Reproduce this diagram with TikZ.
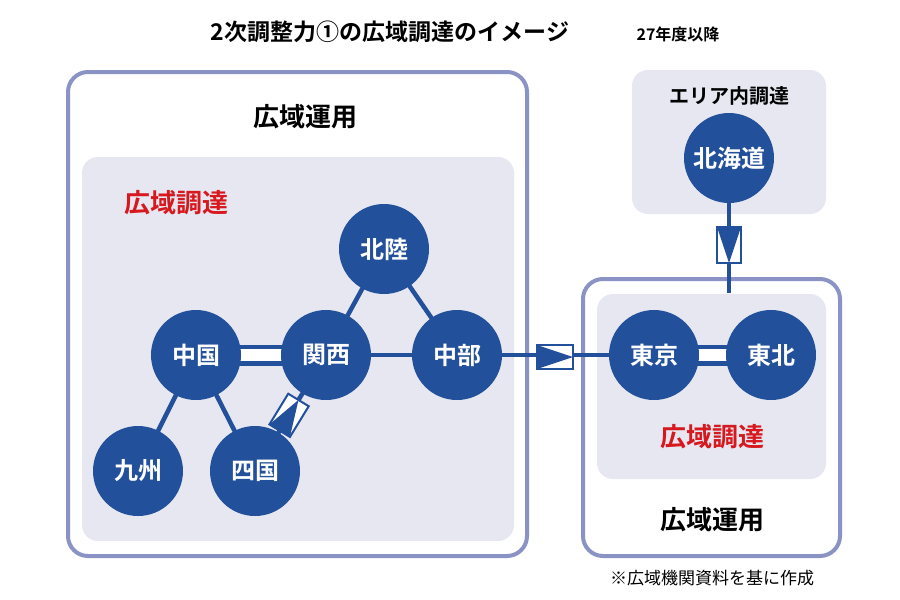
\documentclass[tikz,border=0pt]{standalone}
\usepackage{fontspec}
\setmainfont{Noto Sans CJK JP}[BoldFont={Noto Sans CJK JP Bold}]
\usetikzlibrary{calc}
\definecolor{nb}{HTML}{23509A}
\definecolor{fr}{HTML}{8A93C4}
\definecolor{bg}{HTML}{E6E7F0}
\definecolor{rd}{HTML}{D7191F}
\begin{document}
\begin{tikzpicture}[x=1pt,y=-1pt,
  area/.style={circle,fill=nb,minimum size=90pt,inner sep=0pt,text=white,font=\bfseries\fontsize{24}{24}\selectfont},
  lnk/.style={nb,line width=4.5pt},
  dbl/.style={nb,line width=21pt},
  dblw/.style={white,line width=12pt},
  hd/.style={font=\bfseries\fontsize{26}{26}\selectfont},
  conv/.pic={\draw[nb,line width=2pt,fill=white] (-18,-12) rectangle (18,12);
             \fill[nb] (-18,-12) -- (18,0) -- (-18,12) -- cycle;}]
\useasboundingbox (0,0) rectangle (900,600);
\node[font=\bfseries\fontsize{23}{23}\selectfont] (t) at (390,32) {2次調整力①の広域調達のイメージ};
\node[font=\bfseries\fontsize{16}{16}\selectfont] (t2) at (678,34) {27年度以降};
% boxes
\draw[fr,line width=4pt,rounded corners=20pt] (68,72) rectangle (527,556);
\fill[bg,rounded corners=16pt] (82,157) rectangle (514,541);
\draw[fr,line width=4pt,rounded corners=20pt] (583,279) rectangle (840,556);
\fill[bg,rounded corners=16pt] (597,294) rectangle (826,479);
\fill[bg,rounded corners=16pt] (632,70) rectangle (826,214);
\node[hd] (h1) at (305,117) {広域運用};
\node[hd,text=rd] (r1) at (176,203) {広域調達};
\node[hd,text=rd] (r2) at (712,437) {広域調達};
\node[hd] (h2) at (712,520) {広域運用};
\node[font=\bfseries\fontsize{20}{20}\selectfont] (ea) at (729,96) {エリア内調達};
\node[font=\fontsize{17}{17}\selectfont] (ft) at (712,578) {※広域機関資料を基に作成};
% nodes positions
\coordinate (pH) at (384,249); \coordinate (pC) at (196,355); \coordinate (pK) at (326,355);
\coordinate (pB) at (457,355); \coordinate (pQ) at (138,471); \coordinate (pS) at (255,471);
\coordinate (pT) at (654,355); \coordinate (pN) at (771,355); \coordinate (pD) at (729,158);
% links
\draw[lnk] (pH) -- (pK); \draw[lnk] (pH) -- (pB); \draw[lnk] (pK) -- (pB);
\draw[lnk] (pC) -- (pQ); \draw[lnk] (pC) -- (pS); \draw[lnk] (pK) -- (pS);
\draw[dbl] (pC) -- (pK); \draw[dblw] ($(pC)+(44,0)$) -- ($(pK)-(44,0)$);
\draw[dbl] (pT) -- (pN); \draw[dblw] ($(pT)+(44,0)$) -- ($(pN)-(44,0)$);
\draw[lnk] (pB) -- (pT);
\draw[lnk] (pD) -- (729,293);
\pic at (555,357) {conv};
\pic[rotate=-90] at (729,245) {conv};
\path (pK) -- (pS) pic[pos=0.52,sloped] {conv};
\node[area] (hokuriku) at (pH) {北陸};
\node[area] (chugoku) at (pC) {中国};
\node[area] (kansai) at (pK) {関西};
\node[area] (chubu) at (pB) {中部};
\node[area] (kyushu) at (pQ) {九州};
\node[area] (shikoku) at (pS) {四国};
\node[area] (tokyo) at (pT) {東京};
\node[area] (tohoku) at (pN) {東北};
\node[area] (hokkaido) at (pD) {北海道};
\end{tikzpicture}
\end{document}
